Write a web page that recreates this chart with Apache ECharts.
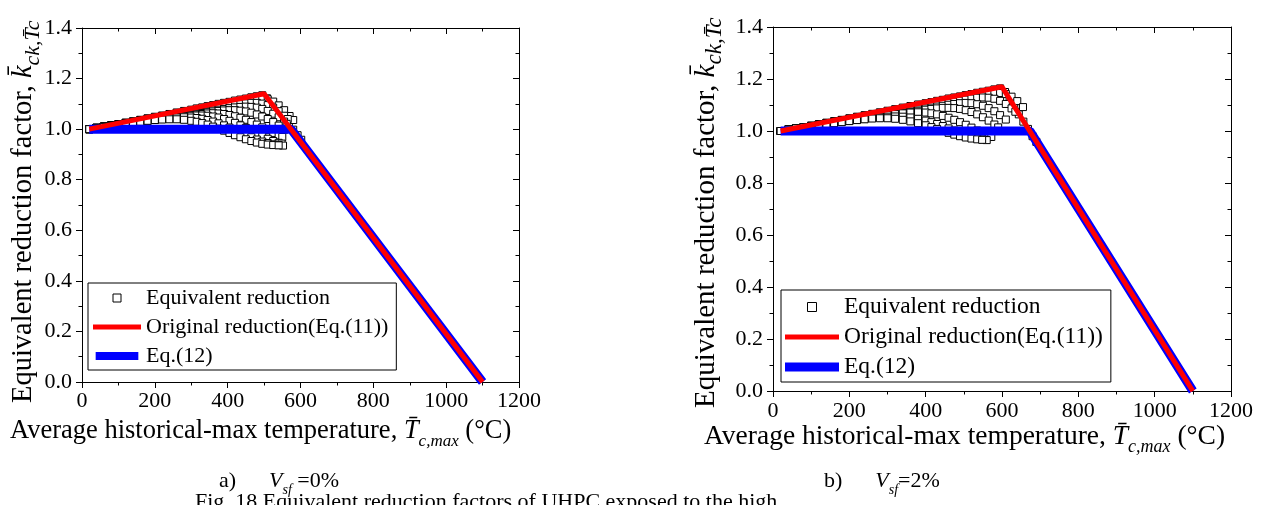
<!DOCTYPE html>
<html>
<head>
<meta charset="utf-8">
<script src="https://cdn.jsdelivr.net/npm/echarts@6/dist/echarts.min.js"></script>
<style>
html,body{margin:0;padding:0;background:#fff;}
#c{width:1282px;height:505px;}
</style>
</head>
<body>
<div id="c"></div>
<script>
// ---------- axis ticks ----------
const xMin = 0, xMax = 1200, xStep = 200;
const yMin = 0, yMax = 1.4, yStep = 0.2;
const xTickLabels = ['0','200','400','600','800','1000','1200'];
const yTickLabels = ['0.0','0.2','0.4','0.6','0.8','1.0','1.2','1.4'];

// ---------- panel a) Vsf = 0% ----------
const a_redT  = [20, 500, 1100];
const a_redK  = [1.00, 1.14, 0.00];
const a_blueT = [20, 574, 1100];
const a_blueK = [1.00, 1.00, 0.00];

const a_c1 = [[20,1.000],[40,1.005],[60,1.010],[80,1.015],[100,1.020],[120,1.026],[140,1.031],[160,1.037],[180,1.043],[200,1.049],[220,1.054],[240,1.060],[260,1.066],[280,1.072],[300,1.077],[315,1.082],[330,1.086],[345,1.091],[360,1.095],[375,1.100],[390,1.104],[405,1.108],[420,1.113],[435,1.117],[450,1.121],[465,1.126],[480,1.130],[495,1.134],[508,1.122],[520,1.104],[532,1.085],[544,1.064],[556,1.043],[568,1.020],[580,0.998],[592,0.976],[602,0.958]];
const a_c2 = [[20,1.000],[40,1.005],[60,1.010],[80,1.015],[100,1.020],[120,1.025],[140,1.030],[160,1.036],[180,1.041],[200,1.046],[220,1.052],[240,1.057],[260,1.062],[280,1.067],[300,1.072],[315,1.076],[330,1.080],[345,1.084],[360,1.088],[375,1.092],[390,1.096],[405,1.100],[420,1.104],[435,1.108],[450,1.112],[465,1.116],[480,1.119],[495,1.121],[510,1.118],[525,1.109],[540,1.094],[555,1.075],[570,1.052],[580,1.036]];
const a_c3 = [[20,1.000],[40,1.005],[60,1.010],[80,1.015],[100,1.019],[120,1.024],[140,1.029],[160,1.034],[180,1.039],[200,1.043],[220,1.048],[240,1.053],[260,1.057],[280,1.062],[300,1.066],[315,1.070],[330,1.073],[345,1.077],[360,1.081],[375,1.084],[390,1.088],[405,1.092],[420,1.096],[435,1.099],[450,1.102],[465,1.104],[480,1.104],[495,1.101],[510,1.095],[525,1.085],[540,1.071],[555,1.053],[565,1.040]];
const a_c4 = [[20,1.000],[40,1.005],[60,1.010],[80,1.014],[100,1.019],[120,1.023],[140,1.028],[160,1.032],[180,1.037],[200,1.041],[220,1.045],[240,1.050],[260,1.054],[280,1.058],[300,1.062],[315,1.065],[330,1.068],[345,1.071],[360,1.074],[375,1.077],[390,1.080],[405,1.083],[420,1.086],[435,1.088],[450,1.089],[465,1.088],[480,1.085],[495,1.080],[510,1.072],[525,1.061],[540,1.047],[555,1.030],[562,1.021]];
const a_c5 = [[20,1.000],[40,1.005],[60,1.009],[80,1.014],[100,1.018],[120,1.023],[140,1.027],[160,1.031],[180,1.035],[200,1.039],[220,1.043],[240,1.047],[260,1.051],[280,1.055],[300,1.058],[315,1.061],[330,1.064],[345,1.067],[360,1.070],[375,1.072],[390,1.074],[405,1.075],[420,1.075],[435,1.073],[450,1.070],[465,1.065],[480,1.058],[495,1.050],[510,1.040],[525,1.028],[540,1.014],[555,0.998]];
const a_c6 = [[20,1.000],[40,1.005],[60,1.009],[80,1.013],[100,1.018],[120,1.022],[140,1.026],[160,1.030],[180,1.034],[200,1.038],[220,1.041],[240,1.045],[260,1.048],[280,1.052],[300,1.055],[315,1.058],[330,1.060],[345,1.062],[360,1.063],[375,1.062],[390,1.060],[405,1.056],[420,1.051],[435,1.045],[450,1.037],[465,1.028],[480,1.018],[495,1.007],[510,0.996],[525,0.985],[540,0.975],[550,0.969]];
const a_c7 = [[20,1.000],[40,1.005],[60,1.009],[80,1.013],[100,1.017],[120,1.021],[140,1.025],[160,1.029],[180,1.033],[200,1.037],[220,1.040],[240,1.044],[260,1.048],[280,1.051],[300,1.053],[315,1.054],[330,1.054],[345,1.053],[360,1.050],[375,1.046],[390,1.040],[405,1.033],[420,1.025],[435,1.015],[450,1.005],[465,0.994],[480,0.983],[495,0.972],[510,0.962],[525,0.953],[540,0.946],[548,0.943]];
const a_c8 = [[20,1.000],[40,1.005],[60,1.009],[80,1.013],[100,1.017],[120,1.021],[140,1.025],[160,1.029],[180,1.033],[200,1.037],[220,1.041],[240,1.044],[260,1.046],[280,1.047],[300,1.046],[315,1.044],[330,1.041],[345,1.036],[360,1.030],[375,1.023],[390,1.015],[405,1.006],[420,0.997],[435,0.987],[450,0.977],[465,0.968],[480,0.959],[495,0.951],[510,0.945],[525,0.940],[540,0.937],[552,0.935]];
const a_c9 = [[20,1.000],[40,1.005],[60,1.009],[80,1.013],[100,1.017],[120,1.021],[140,1.025],[160,1.029],[180,1.033],[200,1.036],[220,1.038],[240,1.039],[260,1.039],[280,1.037],[300,1.033],[315,1.029],[330,1.024],[345,1.018],[360,1.010],[375,1.002],[390,0.994],[405,0.985],[420,0.976],[435,0.968],[450,0.960],[465,0.953],[480,0.947],[495,0.942],[510,0.939],[525,0.937],[540,0.936]];

// ---------- panel b) Vsf = 2% ----------
const b_redT  = [20, 600, 1100];
const b_redK  = [1.00, 1.17, 0.00];
const b_blueT = [20, 673, 1100];
const b_blueK = [1.00, 1.00, 0.00];

const b_c1 = [[20,1.000],[40,1.005],[60,1.010],[80,1.015],[100,1.020],[120,1.026],[140,1.032],[160,1.038],[180,1.043],[200,1.049],[220,1.055],[240,1.061],[260,1.066],[280,1.072],[300,1.078],[320,1.084],[340,1.090],[360,1.096],[380,1.102],[400,1.107],[415,1.111],[430,1.116],[445,1.120],[460,1.125],[475,1.129],[490,1.133],[505,1.138],[520,1.142],[535,1.147],[550,1.151],[565,1.155],[580,1.160],[595,1.164],[608,1.150],[620,1.120],[632,1.092],[644,1.064],[656,1.036],[668,1.008],[680,0.980],[690,0.958]];
const b_c2 = [[20,1.000],[40,1.005],[60,1.010],[80,1.015],[100,1.020],[120,1.025],[140,1.031],[160,1.036],[180,1.042],[200,1.047],[220,1.053],[240,1.058],[260,1.063],[280,1.069],[300,1.074],[320,1.079],[340,1.085],[360,1.090],[380,1.095],[400,1.100],[415,1.104],[430,1.108],[445,1.112],[460,1.116],[475,1.120],[490,1.124],[505,1.128],[520,1.132],[535,1.136],[550,1.140],[565,1.144],[580,1.146],[595,1.146],[610,1.142],[625,1.132],[640,1.115],[655,1.092]];
const b_c3 = [[20,1.000],[40,1.005],[60,1.010],[80,1.015],[100,1.020],[120,1.025],[140,1.030],[160,1.035],[180,1.040],[200,1.045],[220,1.050],[240,1.055],[260,1.060],[280,1.065],[300,1.070],[320,1.075],[340,1.080],[360,1.085],[380,1.089],[400,1.094],[415,1.097],[430,1.101],[445,1.105],[460,1.109],[475,1.113],[490,1.117],[505,1.121],[520,1.125],[535,1.128],[550,1.129],[565,1.128],[580,1.124],[595,1.116],[610,1.104],[625,1.087],[635,1.074]];
const b_c4 = [[20,1.000],[40,1.005],[60,1.010],[80,1.015],[100,1.020],[120,1.024],[140,1.029],[160,1.034],[180,1.039],[200,1.043],[220,1.048],[240,1.053],[260,1.057],[280,1.062],[300,1.066],[320,1.071],[340,1.075],[360,1.079],[380,1.083],[400,1.087],[415,1.090],[430,1.094],[445,1.097],[460,1.101],[475,1.104],[490,1.107],[505,1.108],[520,1.107],[535,1.103],[550,1.097],[565,1.088],[580,1.076],[595,1.061],[610,1.044]];
const b_c5 = [[20,1.000],[40,1.005],[60,1.010],[80,1.014],[100,1.019],[120,1.024],[140,1.028],[160,1.033],[180,1.037],[200,1.042],[220,1.046],[240,1.050],[260,1.054],[280,1.058],[300,1.062],[320,1.066],[340,1.070],[360,1.074],[380,1.078],[400,1.082],[415,1.085],[430,1.087],[445,1.089],[460,1.089],[475,1.088],[490,1.085],[505,1.080],[520,1.073],[535,1.064],[550,1.053],[565,1.040],[580,1.025],[590,1.014]];
const b_c6 = [[20,1.000],[40,1.005],[60,1.010],[80,1.014],[100,1.019],[120,1.023],[140,1.028],[160,1.032],[180,1.036],[200,1.041],[220,1.045],[240,1.049],[260,1.053],[280,1.057],[300,1.061],[320,1.065],[340,1.068],[360,1.071],[380,1.072],[400,1.071],[415,1.068],[430,1.064],[445,1.058],[460,1.051],[475,1.043],[490,1.034],[505,1.024],[520,1.013],[535,1.002],[550,0.991],[565,0.981],[572,0.977]];
const b_c7 = [[20,1.000],[40,1.005],[60,1.010],[80,1.014],[100,1.018],[120,1.023],[140,1.027],[160,1.031],[180,1.035],[200,1.039],[220,1.043],[240,1.047],[260,1.050],[280,1.053],[300,1.055],[320,1.056],[340,1.055],[360,1.052],[380,1.047],[400,1.040],[415,1.034],[430,1.027],[445,1.019],[460,1.010],[475,1.002],[490,0.994],[505,0.986],[520,0.979],[535,0.973],[550,0.968],[560,0.965]];
const b_c8 = [[20,1.000],[40,1.005],[60,1.010],[80,1.014],[100,1.018],[120,1.022],[140,1.026],[160,1.030],[180,1.034],[200,1.038],[220,1.042],[240,1.045],[260,1.048],[280,1.049],[300,1.049],[320,1.047],[340,1.043],[360,1.037],[380,1.030],[400,1.022],[415,1.015],[430,1.008],[445,1.000],[460,0.993],[475,0.986],[490,0.980],[505,0.975],[520,0.971],[535,0.968],[548,0.966]];

// ---------- texts ----------
const nameScatter = 'Equivalent reduction';
const nameRed = 'Original reduction(Eq.(11))';
const nameBlue = 'Eq.(12)';
const caption = 'Fig. 18 Equivalent reduction factors of UHPC exposed to the high';

const FONT = 'Liberation Serif';
const pairs = (t, k) => t.map((v, i) => [v, k[i]]);

function xAxes(g, fs, margin) {
  return [
    {gridIndex:g, type:'value', min:xMin, max:xMax, interval:xStep, position:'bottom',
     axisLine:{show:true, onZero:false, lineStyle:{color:'#000', width:1}},
     axisTick:{show:true, inside:false, length:6, lineStyle:{color:'#000', width:1}},
     minorTick:{show:true, splitNumber:2, length:3.5, lineStyle:{color:'#000', width:1}},
     axisLabel:{show:true, margin:margin, color:'#000', fontFamily:FONT, fontSize:fs,
       formatter:(v) => xTickLabels[Math.round(v / xStep)]},
     splitLine:{show:false}},
    {gridIndex:g, type:'value', min:xMin, max:xMax, interval:xStep, position:'top',
     axisLine:{show:true, onZero:false, lineStyle:{color:'#000', width:1}},
     axisTick:{show:true, inside:true, length:6, lineStyle:{color:'#000', width:1}},
     minorTick:{show:true, splitNumber:2, length:3.5, lineStyle:{color:'#000', width:1}},
     axisLabel:{show:false}, splitLine:{show:false}}
  ];
}
function yAxes(g, fs, margin) {
  return [
    {gridIndex:g, type:'value', min:yMin, max:yMax, interval:yStep, position:'left',
     axisLine:{show:true, onZero:false, lineStyle:{color:'#000', width:1}},
     axisTick:{show:true, inside:false, length:6, lineStyle:{color:'#000', width:1}},
     minorTick:{show:true, splitNumber:2, length:3.5, lineStyle:{color:'#000', width:1}},
     axisLabel:{show:true, margin:margin, color:'#000', fontFamily:FONT, fontSize:fs,
       formatter:(v) => yTickLabels[Math.round(v / yStep)]},
     splitLine:{show:false}},
    {gridIndex:g, type:'value', min:yMin, max:yMax, interval:yStep, position:'right',
     axisLine:{show:true, onZero:false, lineStyle:{color:'#000', width:1}},
     axisTick:{show:true, inside:true, length:6, lineStyle:{color:'#000', width:1}},
     minorTick:{show:true, splitNumber:2, length:3.5, lineStyle:{color:'#000', width:1}},
     axisLabel:{show:false}, splitLine:{show:false}}
  ];
}
function panelSeries(xi, yi, curves, red, blue) {
  return [
    {name:nameScatter, type:'scatter', xAxisIndex:xi, yAxisIndex:yi, z:2,
     symbol:'rect', symbolSize:7,
     itemStyle:{color:'#ffffff', borderColor:'#000000', borderWidth:1, opacity:1},
     emphasis:{disabled:true},
     data:[].concat(...curves)},
    {name:nameBlue, type:'line', xAxisIndex:xi, yAxisIndex:yi, z:3,
     showSymbol:false, symbol:'none', lineStyle:{color:'#0000ff', width:9},
     itemStyle:{color:'#0000ff'}, emphasis:{disabled:true}, data:blue},
    {name:nameRed, type:'line', xAxisIndex:xi, yAxisIndex:yi, z:4,
     showSymbol:false, symbol:'none', lineStyle:{color:'#ff0000', width:5},
     itemStyle:{color:'#ff0000'}, emphasis:{disabled:true}, data:red}
  ];
}
function legendData(w) {
  return [
    {name:nameScatter, icon:'path://M0,0H7V7H0Z', itemStyle:{color:'#fff', borderColor:'#000', borderWidth:1}},
    {name:nameRed, icon:'path://M0,0H'+w+'V5H0Z', itemStyle:{color:'#ff0000', borderWidth:0}},
    {name:nameBlue, icon:'path://M0,0H'+w+'V9H0Z', itemStyle:{color:'#0000ff', borderWidth:0}}
  ];
}
function yTitle(x, y, fs) {
  return {type:'text', x:x, y:y, rotation:Math.PI/2, z:10,
    style:{text:'{m|Equivalent reduction factor, }{k|k\u0304}{s|ck,T\u0304c}',
      align:'left', verticalAlign:'middle',
      rich:{
        m:{fontFamily:FONT, fontSize:fs, lineHeight:fs+12, verticalAlign:'middle', fill:'#000'},
        k:{fontFamily:FONT, fontSize:fs, fontStyle:'italic', lineHeight:fs+12, verticalAlign:'middle', fill:'#000'},
        s:{fontFamily:FONT, fontSize:Math.round(fs*0.78), fontStyle:'italic', lineHeight:fs+12, verticalAlign:'bottom', fill:'#000'}
      }}};
}
function xTitle(x, y, fs) {
  return {type:'text', x:x, y:y, z:10,
    style:{text:'{m|Average historical-max temperature, }{t|T\u0304}{s|c,max}{m| (\u00B0C)}',
      align:'left', verticalAlign:'middle',
      rich:{
        m:{fontFamily:FONT, fontSize:fs, lineHeight:fs+12, verticalAlign:'middle', fill:'#000'},
        t:{fontFamily:FONT, fontSize:fs, fontStyle:'italic', lineHeight:fs+12, verticalAlign:'middle', fill:'#000'},
        s:{fontFamily:FONT, fontSize:Math.round(fs*0.65), fontStyle:'italic', lineHeight:fs+12, verticalAlign:'bottom', fill:'#000'}
      }}};
}
function subCap(x, y, lab, val, fs) {
  return {type:'text', x:x, y:y, z:10,
    style:{text:'{m|'+lab+'      }{v|V}{s|sf}{m|'+val+'}',
      align:'left', verticalAlign:'middle',
      rich:{
        m:{fontFamily:FONT, fontSize:fs, lineHeight:fs+10, verticalAlign:'middle', fill:'#000'},
        v:{fontFamily:FONT, fontSize:fs, fontStyle:'italic', lineHeight:fs+10, verticalAlign:'middle', fill:'#000'},
        s:{fontFamily:FONT, fontSize:Math.round(fs*0.65), fontStyle:'italic', lineHeight:fs+10, verticalAlign:'bottom', fill:'#000'}
      }}};
}

const chart = echarts.init(document.getElementById('c'), null, {renderer:'canvas'});
chart.setOption({
  animation:false,
  backgroundColor:'#ffffff',
  grid:[
    {left:82, top:28, width:437, height:354},
    {left:773, top:27, width:458, height:364}
  ],
  xAxis:[...xAxes(0, 22, 8), ...xAxes(1, 22, 9)],
  yAxis:[...yAxes(0, 22, 10), ...yAxes(1, 22, 10)],
  legend:[
    {orient:'vertical', left:88, top:283, padding:[4,8,3,5], borderColor:'#000', borderWidth:1,
     itemWidth:48, itemHeight:8, itemGap:7, selectedMode:false, symbolKeepAspect:true,
     textStyle:{fontFamily:FONT, fontSize:22, color:'#000'}, data:legendData(48)},
    {orient:'vertical', left:781, top:290, padding:[5,8,3,4], borderColor:'#000', borderWidth:1,
     itemWidth:54, itemHeight:9, itemGap:6, selectedMode:false, symbolKeepAspect:true,
     textStyle:{fontFamily:FONT, fontSize:23.5, color:'#000'}, data:legendData(54)}
  ],
  series:[
    ...panelSeries(0, 0, [a_c1,a_c2,a_c3,a_c4,a_c5,a_c6,a_c7,a_c8,a_c9], pairs(a_redT,a_redK), pairs(a_blueT,a_blueK)),
    ...panelSeries(2, 2, [b_c1,b_c2,b_c3,b_c4,b_c5,b_c6,b_c7,b_c8], pairs(b_redT,b_redK), pairs(b_blueT,b_blueK))
  ],
  graphic:[
    yTitle(24, 403, 28.5),
    yTitle(706, 408, 29),
    xTitle(10, 431, 26.5),
    xTitle(704, 437, 27.5),
    subCap(219, 481, 'a)', ' =0%', 22),
    subCap(824, 481, 'b)', '=2%', 22),
    {type:'text', x:195, y:491, z:10,
     style:{text:caption, fontFamily:FONT, fontSize:22, fill:'#000', align:'left', verticalAlign:'top'}}
  ]
});
</script>
</body>
</html>
